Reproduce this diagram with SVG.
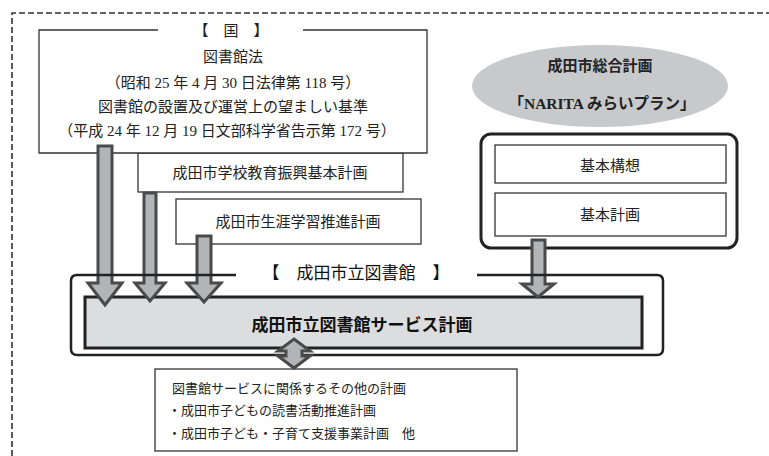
<svg xmlns="http://www.w3.org/2000/svg" width="769" height="456" viewBox="0 0 769 456">
<style>
.mincho{font-family:"Liberation Serif","Noto Sans CJK JP",serif;fill:#222}
.goth{font-family:"Noto Sans CJK JP","Liberation Sans",sans-serif;fill:#111}
.box{fill:#fff;stroke:#333;stroke-width:1.3}
.arrow{fill:#b3b4b6;stroke:#4a4a4a;stroke-width:3;stroke-linejoin:miter}
</style>
<rect width="769" height="456" fill="#fff"/>
<path d="M12,456 V13 H769" fill="none" stroke="#333" stroke-width="1.6" stroke-dasharray="6,3"/>

<g id="school">
<rect class="box" x="138" y="153" width="265" height="39"/>
<text class="mincho" x="270" y="178" font-size="15" text-anchor="middle">成田市学校教育振興基本計画</text>
</g>
<g id="lifelong">
<rect class="box" x="176" y="199" width="245" height="45"/>
<text class="mincho" x="298" y="227" font-size="15" text-anchor="middle">成田市生涯学習推進計画</text>
</g>
<g id="national">
<rect x="39" y="30" width="388" height="123" fill="#fff"/>
<path d="M158,30 H39 V153 H427 V30 H303" fill="none" stroke="#333" stroke-width="1.3"/>
<text class="mincho" x="231" y="36" font-size="15" text-anchor="middle">【　国　】</text>
<text class="mincho" x="233" y="62" font-size="15" text-anchor="middle">図書館法</text>
<text class="mincho" x="233" y="88" font-size="15" text-anchor="middle">（昭和 25 年 4 月 30 日法律第 118 号）</text>
<text class="mincho" x="233" y="112" font-size="15" text-anchor="middle">図書館の設置及び運営上の望ましい基準</text>
<text class="mincho" x="227" y="136" font-size="15" text-anchor="middle">（平成 24 年 12 月 19 日文部科学省告示第 172 号）</text>
</g>
<g id="general-plan">
<ellipse cx="600" cy="86" rx="128" ry="41" fill="#c8c9ca"/>
<text class="mincho" x="600" y="71" font-size="15" font-weight="bold" text-anchor="middle">成田市総合計画</text>
<text class="mincho" x="602" y="109" font-size="15.5" font-weight="bold" text-anchor="middle">「NARITA みらいプラン」</text>
</g>
<g id="basic">
<rect x="481" y="134" width="256" height="114" rx="10" fill="#fff" stroke="#222" stroke-width="3"/>
<rect class="box" x="495" y="145" width="231" height="38"/>
<text class="mincho" x="610" y="171" font-size="15" text-anchor="middle">基本構想</text>
<rect class="box" x="495" y="193" width="231" height="43"/>
<text class="mincho" x="610" y="220" font-size="15" text-anchor="middle">基本計画</text>
</g>
<g id="service-plan">
<rect x="85" y="297" width="557" height="51" fill="#dcdddf" stroke="#222" stroke-width="3"/>
<text class="goth" x="362" y="331" font-size="17" font-weight="bold" text-anchor="middle">成田市立図書館サービス計画</text>
</g>
<g id="connectors">
<polygon class="arrow" points="98,146 112,146 112,283 122,283 105,305 88,283 98,283"/>
<polygon class="arrow" points="144,193 156,193 156,283 165,283 150,301 135,283 144,283"/>
<polygon class="arrow" points="197,236 211,236 211,283 221,283 204,302 187,283 197,283"/>
<polygon class="arrow" points="532,240 545,240 545,284 554,284 538,297 522,284 532,284"/>
</g>
<g id="library-frame">
<path d="M236,275 H77 Q71,275 71,281 V349 Q71,355 77,355 H657 Q663,355 663,349 V281 Q663,275 657,275 H477" fill="none" stroke="#222" stroke-width="2.5"/>
<text class="goth" x="356" y="279" font-size="17" text-anchor="middle">【　成田市立図書館　】</text>
</g>
<g id="other-plans">
<rect class="box" x="155" y="369" width="362" height="82"/>
<text class="mincho" x="172" y="393" font-size="13">図書館サービスに関係するその他の計画</text>
<text class="mincho" x="168" y="415" font-size="13">・成田市子どもの読書活動推進計画</text>
<text class="mincho" x="168" y="438" font-size="13">・成田市子ども・子育て支援事業計画　他</text>
</g>
<g id="connector-both">
<polygon class="arrow" points="294,339 310,351 302,351 302,356 310,356 294,368 278,356 286,356 286,351 278,351"/>
</g>
</svg>
